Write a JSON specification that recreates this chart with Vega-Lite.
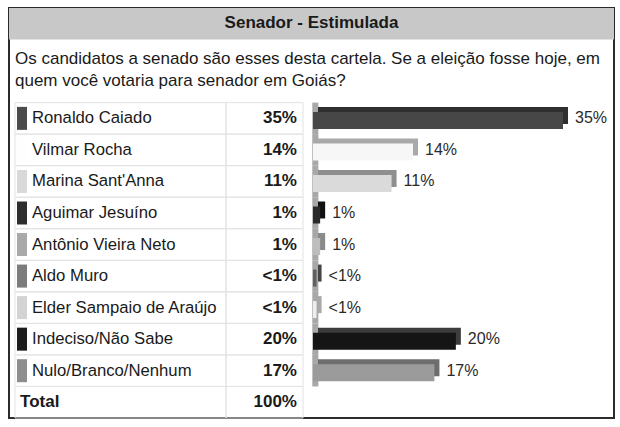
{
  "$schema": "https://vega.github.io/schema/vega-lite/v6.json",
  "width": 620,
  "height": 427,
  "autosize": {"type": "fit", "contains": "padding"},
  "padding": {"left": 9, "top": 8, "right": 6, "bottom": 8},
  "background": "white",
  "config": {
    "view": {"stroke": "#2b2b2b", "strokeWidth": 2},
    "font": "Liberation Sans",
    "text": {"font": "Liberation Sans", "fontSize": 15, "color": "#1a1a1a"}
  },
  "datasets": {
    "senado": [
      {"nome": "Ronaldo Caiado", "percentual": 35, "rotulo": "35%"},
      {"nome": "Vilmar Rocha", "percentual": 14, "rotulo": "14%"},
      {"nome": "Marina Sant'Anna", "percentual": 11, "rotulo": "11%"},
      {"nome": "Aguimar Jesuíno", "percentual": 1, "rotulo": "1%"},
      {"nome": "Antônio Vieira Neto", "percentual": 1, "rotulo": "1%"},
      {"nome": "Aldo Muro", "percentual": 0.5, "rotulo": "<1%"},
      {"nome": "Elder Sampaio de Araújo", "percentual": 0.5, "rotulo": "<1%"},
      {"nome": "Indeciso/Não Sabe", "percentual": 20, "rotulo": "20%"},
      {"nome": "Nulo/Branco/Nenhum", "percentual": 17, "rotulo": "17%"},
      {"nome": "Total", "percentual": 100, "rotulo": "100%"}
    ]
  },
  "data": {"name": "senado"},
  "layer": [
    {
      "layer": [
        {
          "data": {"values": [{"texto": "Senador - Estimulada"}]},
          "mark": {"type": "rect", "color": "#c8c8c8"},
          "encoding": {
            "x": {"datum": 0, "type": "quantitative", "scale": {"domain": [0, 100], "nice": false, "zero": false}, "axis": null},
            "x2": {"datum": 100},
            "y": {"datum": "cab", "type": "nominal", "axis": null,
              "scale": {"type": "band", "paddingInner": 0, "paddingOuter": 0,
                "domain": ["cab", "p1", "p2", "Ronaldo Caiado", "Vilmar Rocha", "Marina Sant'Anna", "Aguimar Jesuíno", "Antônio Vieira Neto", "Aldo Muro", "Elder Sampaio de Araújo", "Indeciso/Não Sabe", "Nulo/Branco/Nenhum", "Total"]}}
          }
        },
        {
          "data": {"values": [{"texto": "Senador - Estimulada"}]},
          "mark": {"type": "text", "align": "center", "baseline": "middle", "fontWeight": "bold", "fontSize": 17, "dy": -1},
          "encoding": {
            "x": {"datum": 50, "type": "quantitative", "scale": {"domain": [0, 100], "nice": false, "zero": false}, "axis": null},
            "y": {"datum": "cab", "type": "nominal", "axis": null,
              "scale": {"type": "band", "paddingInner": 0, "paddingOuter": 0,
                "domain": ["cab", "p1", "p2", "Ronaldo Caiado", "Vilmar Rocha", "Marina Sant'Anna", "Aguimar Jesuíno", "Antônio Vieira Neto", "Aldo Muro", "Elder Sampaio de Araújo", "Indeciso/Não Sabe", "Nulo/Branco/Nenhum", "Total"]}},
            "text": {"field": "texto"}
          }
        },
        {
          "data": {"values": [{"texto": "Os candidatos a senado são  esses desta cartela. Se a eleição fosse hoje, em\nquem você votaria para senador em Goiás?"}]},
          "mark": {"type": "text", "align": "left", "baseline": "middle", "lineBreak": "\n", "lineHeight": 22, "fontSize": 17, "dy": -28},
          "encoding": {
            "x": {"datum": 0.99, "type": "quantitative", "scale": {"domain": [0, 100], "nice": false, "zero": false}, "axis": null},
            "y": {"datum": "p2", "type": "nominal", "axis": null,
              "scale": {"type": "band", "paddingInner": 0, "paddingOuter": 0,
                "domain": ["cab", "p1", "p2", "Ronaldo Caiado", "Vilmar Rocha", "Marina Sant'Anna", "Aguimar Jesuíno", "Antônio Vieira Neto", "Aldo Muro", "Elder Sampaio de Araújo", "Indeciso/Não Sabe", "Nulo/Branco/Nenhum", "Total"]}},
            "text": {"field": "texto"}
          }
        },
        {
          "mark": {"type": "rect", "fillOpacity": 0, "stroke": "#e3e3e3", "strokeWidth": 1},
          "encoding": {
            "x": {"datum": 0.99, "type": "quantitative", "scale": {"domain": [0, 100], "nice": false, "zero": false}, "axis": null},
            "x2": {"datum": 35.87},
            "y": {"field": "nome", "type": "nominal", "axis": null,
              "scale": {"type": "band", "paddingInner": 0, "paddingOuter": 0,
                "domain": ["cab", "p1", "p2", "Ronaldo Caiado", "Vilmar Rocha", "Marina Sant'Anna", "Aguimar Jesuíno", "Antônio Vieira Neto", "Aldo Muro", "Elder Sampaio de Araújo", "Indeciso/Não Sabe", "Nulo/Branco/Nenhum", "Total"]}}
          }
        },
        {
          "mark": {"type": "rect", "fillOpacity": 0, "stroke": "#e3e3e3", "strokeWidth": 1},
          "encoding": {
            "x": {"datum": 35.87, "type": "quantitative", "scale": {"domain": [0, 100], "nice": false, "zero": false}, "axis": null},
            "x2": {"datum": 48.6},
            "y": {"field": "nome", "type": "nominal", "axis": null,
              "scale": {"type": "band", "paddingInner": 0, "paddingOuter": 0,
                "domain": ["cab", "p1", "p2", "Ronaldo Caiado", "Vilmar Rocha", "Marina Sant'Anna", "Aguimar Jesuíno", "Antônio Vieira Neto", "Aldo Muro", "Elder Sampaio de Araújo", "Indeciso/Não Sabe", "Nulo/Branco/Nenhum", "Total"]}}
          }
        },
        {
          "transform": [{"filter": "datum.nome !== 'Total'"}],
          "mark": {"type": "bar", "height": 23},
          "encoding": {
            "x": {"datum": 1.32, "type": "quantitative", "scale": {"domain": [0, 100], "nice": false, "zero": false}, "axis": null},
            "x2": {"datum": 2.98},
            "y": {"field": "nome", "type": "nominal", "axis": null,
              "scale": {"type": "band", "paddingInner": 0, "paddingOuter": 0,
                "domain": ["cab", "p1", "p2", "Ronaldo Caiado", "Vilmar Rocha", "Marina Sant'Anna", "Aguimar Jesuíno", "Antônio Vieira Neto", "Aldo Muro", "Elder Sampaio de Araújo", "Indeciso/Não Sabe", "Nulo/Branco/Nenhum", "Total"]}},
            "color": {"field": "nome", "type": "nominal", "legend": null,
              "scale": {"domain": ["Ronaldo Caiado", "Vilmar Rocha", "Marina Sant'Anna", "Aguimar Jesuíno", "Antônio Vieira Neto", "Aldo Muro", "Elder Sampaio de Araújo", "Indeciso/Não Sabe", "Nulo/Branco/Nenhum"],
                "range": ["#4b4b4b", "#fefefe", "#d9d9d9", "#2e2e2e", "#a9a9a9", "#7c7c7c", "#d3d3d3", "#1c1c1c", "#8e8e8e"]}}
          }
        },
        {
          "transform": [{"filter": "datum.nome !== 'Total'"}],
          "mark": {"type": "text", "align": "left", "baseline": "middle", "fontSize": 16.7},
          "encoding": {
            "x": {"datum": 3.8, "type": "quantitative", "scale": {"domain": [0, 100], "nice": false, "zero": false}, "axis": null},
            "y": {"field": "nome", "type": "nominal", "axis": null,
              "scale": {"type": "band", "paddingInner": 0, "paddingOuter": 0,
                "domain": ["cab", "p1", "p2", "Ronaldo Caiado", "Vilmar Rocha", "Marina Sant'Anna", "Aguimar Jesuíno", "Antônio Vieira Neto", "Aldo Muro", "Elder Sampaio de Araújo", "Indeciso/Não Sabe", "Nulo/Branco/Nenhum", "Total"]}},
            "text": {"field": "nome"}
          }
        },
        {
          "transform": [{"filter": "datum.nome === 'Total'"}],
          "mark": {"type": "text", "align": "left", "baseline": "middle", "fontWeight": "bold", "fontSize": 17},
          "encoding": {
            "x": {"datum": 1.82, "type": "quantitative", "scale": {"domain": [0, 100], "nice": false, "zero": false}, "axis": null},
            "y": {"field": "nome", "type": "nominal", "axis": null,
              "scale": {"type": "band", "paddingInner": 0, "paddingOuter": 0,
                "domain": ["cab", "p1", "p2", "Ronaldo Caiado", "Vilmar Rocha", "Marina Sant'Anna", "Aguimar Jesuíno", "Antônio Vieira Neto", "Aldo Muro", "Elder Sampaio de Araújo", "Indeciso/Não Sabe", "Nulo/Branco/Nenhum", "Total"]}},
            "text": {"field": "nome"}
          }
        },
        {
          "mark": {"type": "text", "align": "right", "baseline": "middle", "fontWeight": "bold", "fontSize": 17},
          "encoding": {
            "x": {"datum": 47.6, "type": "quantitative", "scale": {"domain": [0, 100], "nice": false, "zero": false}, "axis": null},
            "y": {"field": "nome", "type": "nominal", "axis": null,
              "scale": {"type": "band", "paddingInner": 0, "paddingOuter": 0,
                "domain": ["cab", "p1", "p2", "Ronaldo Caiado", "Vilmar Rocha", "Marina Sant'Anna", "Aguimar Jesuíno", "Antônio Vieira Neto", "Aldo Muro", "Elder Sampaio de Araújo", "Indeciso/Não Sabe", "Nulo/Branco/Nenhum", "Total"]}},
            "text": {"field": "rotulo"}
          }
        }
      ]
    },
    {
      "transform": [{"filter": "datum.nome !== 'Total'"}],
      "layer": [
        {
          "mark": {"type": "bar", "color": "#a8a8a8"},
          "encoding": {
            "x": {"datum": -0.1, "type": "quantitative", "scale": {"domain": [-42.56, 42.14], "nice": false, "zero": false}, "axis": null},
            "x2": {"datum": 0.75},
            "y": {"field": "nome", "type": "nominal", "axis": null,
              "scale": {"type": "band", "paddingInner": 0, "paddingOuter": 0,
                "domain": ["cab", "p1", "p2", "Ronaldo Caiado", "Vilmar Rocha", "Marina Sant'Anna", "Aguimar Jesuíno", "Antônio Vieira Neto", "Aldo Muro", "Elder Sampaio de Araújo", "Indeciso/Não Sabe", "Nulo/Branco/Nenhum", "Total"]}}
          }
        },
        {
          "mark": {"type": "bar", "height": 17, "xOffset": 5, "x2Offset": 5, "yOffset": -3, "y2Offset": -3},
          "encoding": {
            "x": {"field": "percentual", "type": "quantitative", "scale": {"domain": [-42.56, 42.14], "nice": false, "zero": false}, "axis": null},
            "x2": {"datum": 0},
            "y": {"field": "nome", "type": "nominal", "axis": null,
              "scale": {"type": "band", "paddingInner": 0, "paddingOuter": 0,
                "domain": ["cab", "p1", "p2", "Ronaldo Caiado", "Vilmar Rocha", "Marina Sant'Anna", "Aguimar Jesuíno", "Antônio Vieira Neto", "Aldo Muro", "Elder Sampaio de Araújo", "Indeciso/Não Sabe", "Nulo/Branco/Nenhum", "Total"]}},
            "fill": {"field": "nome", "type": "nominal", "legend": null,
              "scale": {"domain": ["Ronaldo Caiado", "Vilmar Rocha", "Marina Sant'Anna", "Aguimar Jesuíno", "Antônio Vieira Neto", "Aldo Muro", "Elder Sampaio de Araújo", "Indeciso/Não Sabe", "Nulo/Branco/Nenhum"],
                "range": ["#2f2f2f", "#a9a9a9", "#8f8f8f", "#111111", "#8a8a8a", "#454545", "#a8a8a8", "#3c3c3c", "#6d6d6d"]}}
          }
        },
        {
          "mark": {"type": "bar", "height": 17, "yOffset": 2, "y2Offset": 2},
          "encoding": {
            "x": {"field": "percentual", "type": "quantitative", "scale": {"domain": [-42.56, 42.14], "nice": false, "zero": false}, "axis": null},
            "x2": {"datum": 0},
            "y": {"field": "nome", "type": "nominal", "axis": null,
              "scale": {"type": "band", "paddingInner": 0, "paddingOuter": 0,
                "domain": ["cab", "p1", "p2", "Ronaldo Caiado", "Vilmar Rocha", "Marina Sant'Anna", "Aguimar Jesuíno", "Antônio Vieira Neto", "Aldo Muro", "Elder Sampaio de Araújo", "Indeciso/Não Sabe", "Nulo/Branco/Nenhum", "Total"]}},
            "color": {"field": "nome", "type": "nominal", "legend": null,
              "scale": {"domain": ["Ronaldo Caiado", "Vilmar Rocha", "Marina Sant'Anna", "Aguimar Jesuíno", "Antônio Vieira Neto", "Aldo Muro", "Elder Sampaio de Araújo", "Indeciso/Não Sabe", "Nulo/Branco/Nenhum"],
                "range": ["#474747", "#f7f7f7", "#dadada", "#2a2a2a", "#bdbdbd", "#5f5f5f", "#ededed", "#151515", "#9b9b9b"]}}
          }
        },
        {
          "mark": {"type": "text", "align": "left", "baseline": "middle", "dx": 12, "color": "#2a2a2a", "fontSize": 16},
          "encoding": {
            "x": {"field": "percentual", "type": "quantitative", "scale": {"domain": [-42.56, 42.14], "nice": false, "zero": false}, "axis": null},
            "y": {"field": "nome", "type": "nominal", "axis": null,
              "scale": {"type": "band", "paddingInner": 0, "paddingOuter": 0,
                "domain": ["cab", "p1", "p2", "Ronaldo Caiado", "Vilmar Rocha", "Marina Sant'Anna", "Aguimar Jesuíno", "Antônio Vieira Neto", "Aldo Muro", "Elder Sampaio de Araújo", "Indeciso/Não Sabe", "Nulo/Branco/Nenhum", "Total"]}},
            "text": {"field": "rotulo"}
          }
        }
      ],
      "resolve": {"scale": {"color": "independent", "fill": "independent"}}
    }
  ],
  "resolve": {"scale": {"x": "independent", "color": "independent"}}
}
